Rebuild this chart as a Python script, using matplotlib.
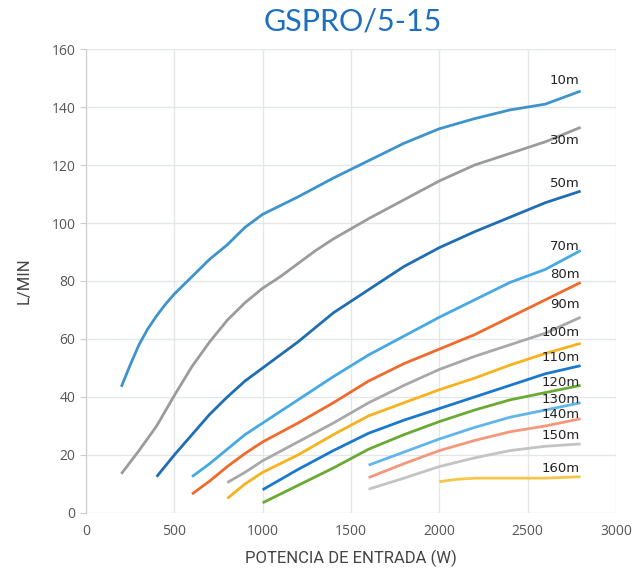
import matplotlib
matplotlib.use("Agg")
import matplotlib.pyplot as plt

# curve labels (head)
heads = ["10m", "30m", "50m", "70m", "80m", "90m", "100m",
         "110m", "120m", "130m", "140m", "150m", "160m"]

# input power (W) and flow (L/min) for each curve
x_10 = [200, 250, 300, 350, 400, 450, 500, 600, 700, 800, 900, 1000, 1100, 1200, 1400, 1600, 1800, 2000, 2200, 2400, 2600, 2800]
y_10 = [43.5, 51, 58, 63.5, 68, 72, 75.5, 81.5, 87.5, 92.5, 98.5, 103, 106, 109, 115.5, 121.5, 127.5, 132.5, 136, 139, 141, 145.5]

x_30 = [200, 300, 400, 500, 600, 700, 800, 900, 1000, 1100, 1200, 1300, 1400, 1600, 1800, 2000, 2200, 2400, 2600, 2800]
y_30 = [13.5, 21.5, 30, 40.5, 50.5, 59, 66.5, 72.5, 77.5, 81.5, 86, 90.5, 94.5, 101.5, 108, 114.5, 120, 124, 128, 133]

x_50 = [400, 500, 600, 700, 800, 900, 1000, 1100, 1200, 1300, 1400, 1600, 1800, 2000, 2200, 2400, 2600, 2800]
y_50 = [12.5, 20, 27, 34, 40, 45.5, 50, 54.5, 59, 64, 69, 77, 85, 91.5, 97, 102, 107, 111]

x_70 = [600, 700, 800, 900, 1000, 1200, 1400, 1600, 1800, 2000, 2200, 2400, 2600, 2800]
y_70 = [12.5, 17, 22, 27, 31, 39, 47, 54.5, 61, 67.5, 73.5, 79.5, 84, 90.5]

x_80 = [600, 700, 800, 900, 1000, 1200, 1400, 1600, 1800, 2000, 2200, 2400, 2600, 2800]
y_80 = [6.5, 11, 16, 20.5, 24.5, 31, 38, 45.5, 51.5, 56.5, 61.5, 67.5, 73.5, 79.5]

x_90 = [800, 900, 1000, 1200, 1400, 1600, 1800, 2000, 2200, 2400, 2600, 2800]
y_90 = [10.5, 14, 18, 24.5, 31, 38, 44, 49.5, 54, 58, 62, 67.5]

x_100 = [800, 900, 1000, 1200, 1400, 1600, 1800, 2000, 2200, 2400, 2600, 2800]
y_100 = [5, 10, 14, 20, 27, 33.5, 38, 42.5, 46.5, 51, 55, 58.5]

x_110 = [1000, 1200, 1400, 1600, 1800, 2000, 2200, 2400, 2600, 2800]
y_110 = [8, 15, 21.5, 27.5, 32, 36, 40, 44, 48, 50.8]

x_120 = [1000, 1200, 1400, 1600, 1800, 2000, 2200, 2400, 2600, 2800]
y_120 = [3.5, 9.5, 15.5, 22, 27, 31.5, 35.5, 39, 41.5, 44]

x_130 = [1600, 1800, 2000, 2200, 2400, 2600, 2800]
y_130 = [16.5, 21, 25.5, 29.5, 33, 35.5, 38]

x_140 = [1600, 1800, 2000, 2200, 2400, 2600, 2800]
y_140 = [12.2, 17, 21.5, 25, 28, 30, 32.5]

x_150 = [1600, 1800, 2000, 2200, 2400, 2600, 2800]
y_150 = [8.2, 12, 16, 19, 21.5, 23, 23.8]

x_160 = [2000, 2100, 2200, 2400, 2600, 2800]
y_160 = [10.8, 11.6, 12, 12, 12, 12.5]

# where each label sits (y, L/min)
label_y = [149, 128.4, 113.7, 91.9, 82.3, 71.9, 62.2, 53.6, 44.9, 39.0, 33.8, 26.6, 15.2]

colors = ["#3d93cc", "#9b9b9b", "#1f6db3", "#45a9e4", "#f26a2b", "#a8a8a8",
          "#f7b21e", "#1b79cd", "#6aa934", "#62b5ea", "#f5977b", "#c3c3c3", "#f8c54a"]

xs = [x_10, x_30, x_50, x_70, x_80, x_90, x_100, x_110, x_120, x_130, x_140, x_150, x_160]
ys = [y_10, y_30, y_50, y_70, y_80, y_90, y_100, y_110, y_120, y_130, y_140, y_150, y_160]

fig = plt.figure(figsize=(6.35, 5.77), dpi=100)
ax = fig.add_axes([0.1354, 0.111, 0.8346, 0.804])

for x, y, c in zip(xs, ys, colors):
    ax.plot(x, y, color=c, linewidth=2.0, solid_capstyle="butt", solid_joinstyle="round")

for name, ly in zip(heads, label_y):
    ax.text(2795, ly, name, ha="right", va="center", fontsize=9.5,
            family="DejaVu Sans", color="#222222")

ax.set_xlim(0, 3000)
ax.set_ylim(0, 160)
ax.set_xticks(range(0, 3001, 500))
ax.set_yticks(range(0, 161, 20))
ax.grid(True, color="#e3e6ea", linewidth=1.0)
ax.set_axisbelow(True)
for s in ["top", "right", "bottom"]:
    ax.spines[s].set_visible(False)
ax.spines["left"].set_color("#cccccc")
ax.tick_params(axis="y", colors="#cccccc", labelcolor="#555555", length=4, labelsize=10)
ax.tick_params(axis="x", length=0, labelcolor="#555555", labelsize=10, pad=8)
for lab in ax.get_xticklabels() + ax.get_yticklabels():
    lab.set_family("Open Sans")

ax.set_xlabel("POTENCIA DE ENTRADA (W)", fontsize=12, color="#444444",
              family="Roboto", labelpad=8)
ax.set_ylabel("L/MIN", fontsize=12, color="#444444", family="Roboto", labelpad=14)

fig.text(0.555, 0.962, "GSPRO/5-15", ha="center", va="center", fontsize=22,
         color="#1f6fc0", family="Lato")

fig.savefig("out.png", dpi=100)
